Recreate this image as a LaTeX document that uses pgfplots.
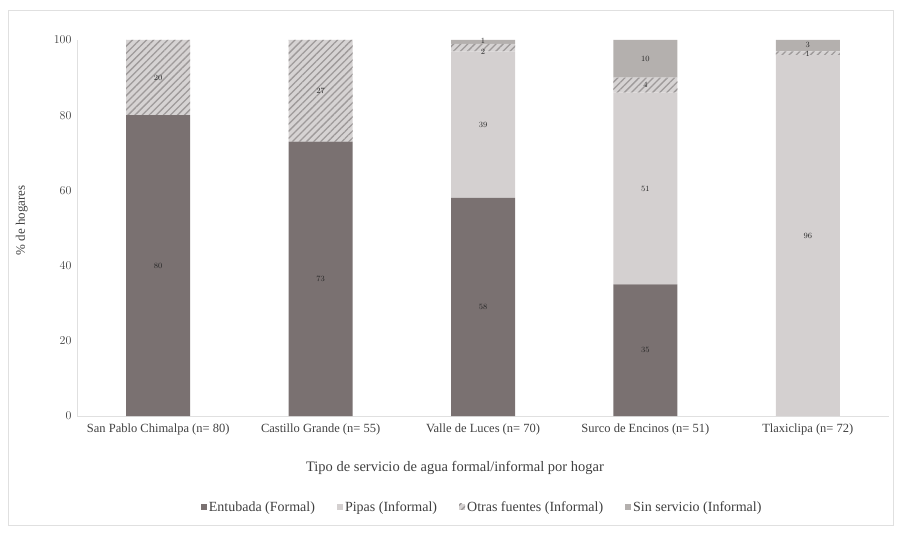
\documentclass[border=0pt]{standalone}
\usepackage{fontspec}
\setmainfont{Liberation Serif}
\usepackage{pgfplots}
\usepackage{pgfplotstable}
\pgfplotsset{compat=1.18}
\usetikzlibrary{patterns,patterns.meta}

\definecolor{entubada}{HTML}{7A7171}
\definecolor{pipas}{HTML}{D4D0D0}
\definecolor{otrasbg}{HTML}{D6D3D3}
\definecolor{otrasln}{HTML}{9E9A9A}
\definecolor{sinserv}{HTML}{B4B0AE}
\definecolor{txt}{HTML}{404040}

% x = community index, y = % of households, dy = label nudge (pt) for thin segments
\pgfplotstableread{
x y dy
0 80 0
1 73 0
2 58 0
3 35 0
4 0 0
}\entubada
\pgfplotstableread{
x y dy
0 0 0
1 0 0
2 39 0
3 51 0
4 96 0
}\pipas
\pgfplotstableread{
x y dy
0 20 0
1 27 0
2 2 -4
3 4 0
4 1 -1
}\otras
\pgfplotstableread{
x y dy
0 0 0
1 0 0
2 1 1
3 10 0
4 3 1
}\sinserv

% value labels centred in each stacked segment (zero segments stay unlabelled)
\pgfplotsset{
  seglabel/.style={
    nodes near coords={\pgfmathfloatifflags{\pgfplotspointmeta}{0}{}{\pgfmathprintnumber{\pgfplotspointmeta}}},
    point meta=rawy,
    visualization depends on={\thisrow{dy} \as \labdy},
    every node near coord/.append style={anchor=center, yshift=\labdy pt,
      font=\fontsize{8}{8.5}\selectfont, text=black!85, inner sep=0pt},
  },
}

\begin{document}
\begin{tikzpicture}
\begin{axis}[
  scale only axis,
  width=812pt, height=376pt,
  ybar stacked,
  bar width=64pt,
  xmin=-0.5, xmax=4.5,
  ymin=0, ymax=100,
  ytick={0,20,40,60,80,100},
  xtick={0,1,2,3,4},
  xticklabels={San Pablo Chimalpa (n= 80), Castillo Grande (n= 55), Valle de Luces (n= 70), Surco de Encinos (n= 51), Tlaxiclipa (n= 72)},
  axis x line*=bottom, axis y line*=left,
  axis line style={draw=black!12, line width=0.8pt},
  major tick length=0pt,
  tick label style={font=\fontsize{12.5}{14}\selectfont, text=txt},
  xticklabel style={yshift=-4pt},
  yticklabel style={xshift=-2pt},
  xlabel={Tipo de servicio de agua formal/informal por hogar},
  ylabel={\% de hogares},
  xlabel style={font=\fontsize{14.5}{16}\selectfont, text=txt,
    at={(axis description cs:0.4655,-0.138)}, anchor=center},
  ylabel style={font=\fontsize{13}{15}\selectfont, text=txt,
    at={(axis description cs:-0.068,0.52)}, anchor=center},
  legend style={at={(0.499,-0.242)}, anchor=center, draw=none,
    legend columns=4, font=\fontsize{14}{16}\selectfont, text=txt,
    /tikz/every even column/.append style={column sep=20pt}},
  legend image code/.code={\draw[#1, draw=none] (0pt,-3pt) rectangle (6pt,3pt);},
  clip=false,
]
\addplot[seglabel, fill=entubada, draw=none] table[x=x, y=y] {\entubada};
\addlegendentry{Entubada (Formal)}
\addplot[seglabel, fill=pipas, draw=none] table[x=x, y=y] {\pipas};
\addlegendentry{Pipas (Informal)}
\addplot[seglabel, fill=otrasbg, draw=none,
  postaction={pattern={Lines[angle=45,distance=5pt,line width=1.3pt]}, pattern color=otrasln}]
  table[x=x, y=y] {\otras};
\addlegendentry{Otras fuentes (Informal)}
\addplot[seglabel, fill=sinserv, draw=none] table[x=x, y=y] {\sinserv};
\addlegendentry{Sin servicio (Informal)}
\end{axis}
% chart area: outer page and thin frame
\path (current axis.south west) ++(-77pt,-117pt) rectangle ++(901pt,533pt);
\draw[black!12, line width=0.8pt] (current axis.south west) ++(-69pt,-109pt) rectangle ++(885pt,515pt);
\end{tikzpicture}
\end{document}
